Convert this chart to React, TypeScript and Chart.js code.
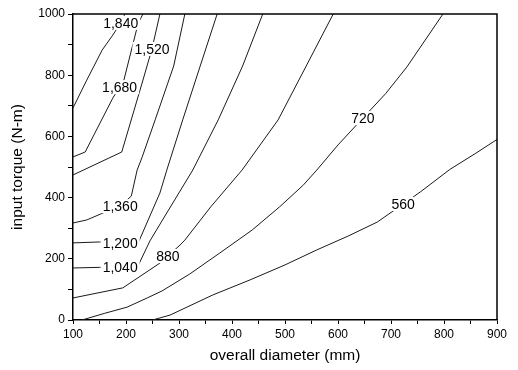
import React, { useEffect, useRef } from 'react';
import { Chart, registerables } from 'chart.js';

Chart.register(...registerables);

const FONT = '"Liberation Sans", Arial, Helvetica, sans-serif';

// Contour lines (overall diameter mm, input torque N-m)
const c560X = [250, 283, 364, 434, 500, 560, 620, 674, 723, 755, 811, 860, 900];
const c560Y = [0, 16, 82, 131, 180, 229, 275, 320, 379, 418, 492, 545, 590];

const c720X = [117, 160, 202, 240, 268, 320, 377, 438, 490, 534, 560, 600, 647, 690, 730, 798];
const c720Y = [0, 22, 42, 72, 95, 150, 219, 294, 370, 440, 490, 572, 660, 740, 827, 1000];

const c880X = [100, 194, 264, 279, 302, 311, 360, 419, 487, 540, 591];
const c880Y = [72, 105, 186, 209, 245, 261, 370, 490, 654, 830, 1000];

const c1040X = [100, 150, 189, 223, 245, 270, 326, 374, 420, 458];
const c1040Y = [170, 172, 173, 178, 258, 330, 490, 654, 830, 1000];

const c1200X = [100, 150, 189, 223, 264, 277, 307, 340, 372];
const c1200Y = [252, 255, 252, 252, 415, 490, 654, 830, 1000];

const c1360X = [100, 126, 157, 189, 210, 221, 230, 255, 290, 311];
const c1360Y = [317, 327, 350, 372, 405, 490, 530, 654, 830, 1000];

const c1520X = [100, 192, 232, 249, 264];
const c1520Y = [474, 549, 784, 886, 1000];

const c1680X = [100, 123, 175, 188, 196, 223, 232];
const c1680Y = [533, 549, 725, 761, 784, 970, 1000];

const c1840X = [100, 126, 155, 175, 190, 198];
const c1840Y = [693, 784, 882, 931, 971, 1000];

const linesX = [c560X, c720X, c880X, c1040X, c1200X, c1360X, c1520X, c1680X, c1840X];
const linesY = [c560Y, c720Y, c880Y, c1040Y, c1200Y, c1360Y, c1520Y, c1680Y, c1840Y];

// Contour labels
const labelText = ['560', '720', '880', '1,040', '1,200', '1,360', '1,520', '1,680', '1,840'];
const labelX = [723, 647, 279, 189, 189, 189, 249, 188, 190];
const labelY = [379, 660, 209, 173, 252, 372, 886, 761, 971];

const contourLabels = {
  id: 'contourLabels',
  afterDatasetsDraw(chart: any) {
    const { ctx } = chart;
    const xs = chart.scales.x;
    const ys = chart.scales.y;
    ctx.save();
    ctx.font = `14px ${FONT}`;
    ctx.textAlign = 'center';
    ctx.textBaseline = 'middle';
    labelText.forEach((t, i) => {
      const px = xs.getPixelForValue(labelX[i]);
      const py = ys.getPixelForValue(labelY[i]);
      const w = ctx.measureText(t).width;
      ctx.fillStyle = '#ffffff';
      ctx.fillRect(px - w / 2 - 2, py - 7, w + 4, 14);
      ctx.fillStyle = '#000000';
      ctx.fillText(t, px, py + 1);
    });
    ctx.restore();
  },
};

const frame = {
  id: 'frame',
  afterDraw(chart: any) {
    const { ctx, chartArea } = chart;
    ctx.save();
    ctx.strokeStyle = '#000';
    ctx.lineWidth = 1.5;
    ctx.beginPath();
    ctx.moveTo(chartArea.left, chartArea.top);
    ctx.lineTo(chartArea.right, chartArea.top);
    ctx.lineTo(chartArea.right, chartArea.bottom);
    ctx.stroke();
    ctx.restore();
  },
};

export default function App() {
  const ref = useRef<HTMLCanvasElement | null>(null);

  useEffect(() => {
    if (!ref.current) return;
    const datasets = linesX.map((xs, k) => ({
      data: xs.map((x, i) => ({ x, y: linesY[k][i] })),
      borderColor: '#1a1a1a',
      borderWidth: 1,
      pointRadius: 0,
      fill: false,
      tension: 0,
    }));
    const chart = new Chart(ref.current, {
      type: 'line',
      data: { datasets },
      options: {
        responsive: false,
        animation: false,
        layout: { padding: { top: 14, right: 21, left: 0, bottom: 0 } },
        plugins: { legend: { display: false }, tooltip: { enabled: false } },
        scales: {
          x: {
            type: 'linear',
            min: 100,
            max: 900,
            afterFit: (s: any) => { s.height = 50; },
            ticks: {
              stepSize: 50,
              autoSkip: false,
              maxRotation: 0,
              color: '#000',
              padding: 3,
              font: { size: 12, family: FONT },
              callback: (v: any) => (Number(v) % 100 === 0 ? String(v) : ''),
            },
            grid: { drawOnChartArea: false, drawTicks: true, tickLength: 4, color: '#000' },
            border: { display: true, color: '#000', width: 1.5 },
            title: {
              display: true,
              text: 'overall diameter (mm)',
              color: '#000',
              font: { size: 15.5, family: FONT },
              padding: { top: 0, bottom: 5 },
            },
          },
          y: {
            type: 'linear',
            min: 0,
            max: 1000,
            afterFit: (s: any) => { s.width = 73; },
            ticks: {
              stepSize: 100,
              autoSkip: false,
              color: '#000',
              padding: 3,
              font: { size: 12, family: FONT },
              callback: (v: any) => (Number(v) % 200 === 0 ? String(v) : ''),
            },
            grid: { drawOnChartArea: false, drawTicks: true, tickLength: 5, color: '#000' },
            border: { display: true, color: '#000', width: 1.5 },
            title: {
              display: true,
              text: 'input torque (N-m)',
              color: '#000',
              font: { size: 15.5, family: FONT },
              padding: { top: 8, bottom: 0 },
            },
          },
        },
      },
      plugins: [contourLabels, frame],
    });
    return () => chart.destroy();
  }, []);

  return (
    <div style={{ position: 'fixed', left: 0, top: 0, width: 518, height: 370, background: '#fff' }}>
      <canvas ref={ref} width={518} height={370} />
    </div>
  );
}
